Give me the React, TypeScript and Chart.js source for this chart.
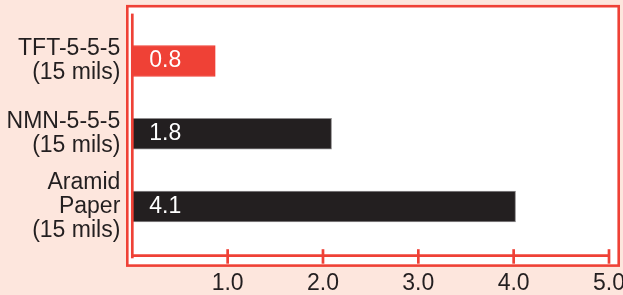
import React, { useEffect, useRef } from "react";
import { Chart, registerables } from "chart.js";

Chart.register(...registerables);

const categories: string[][] = [
  ["TFT-5-5-5", "(15 mils)"],
  ["NMN-5-5-5", "(15 mils)"],
  ["Aramid", "Paper", "(15 mils)"],
];
const barValues: number[] = [0.87, 2.09, 4.02];
const valueLabels: string[] = ["0.8", "1.8", "4.1"];
const xTickLabels: string[] = ["", "1.0", "2.0", "3.0", "4.0", "5.0"];
const barColors: string[] = ["#ef4136", "#231f20", "#231f20"];
const barBorders: string[] = ["#ef4136", "#8f8d8e", "#8f8d8e"];

const RED = "#ef4136";
const PINK = "#fde6dd";
const TEXT = "#231f20";
const FONT = "'Liberation Sans', Arial, Helvetica, sans-serif";

const decorPlugin = {
  id: "decor",
  beforeDraw(chart: any) {
    const { ctx, chartArea: ca, width, height } = chart;
    ctx.save();
    ctx.fillStyle = PINK;
    ctx.fillRect(0, 0, width, height);
    const l = ca.left - 5;
    const r = ca.right + 9.7;
    const t = ca.top - 18.4;
    const b = ca.bottom + 22.7;
    ctx.fillStyle = "#ffffff";
    ctx.fillRect(l, t, r - l, b - t);
    ctx.strokeStyle = RED;
    ctx.lineWidth = 2.6;
    ctx.strokeRect(l, t, r - l, b - t);
    ctx.restore();
  },
  afterDatasetsDraw(chart: any) {
    const { ctx, chartArea: ca } = chart;
    const xs = chart.scales.x;
    const axisY = ca.bottom + 12.8;
    ctx.save();
    ctx.strokeStyle = RED;
    ctx.lineWidth = 2.7;
    ctx.beginPath();
    ctx.moveTo(ca.left, ca.top - 11);
    ctx.lineTo(ca.left, ca.bottom + 15.4);
    ctx.stroke();
    ctx.beginPath();
    ctx.moveTo(ca.left, axisY);
    ctx.lineTo(xs.getPixelForValue(5), axisY);
    ctx.stroke();
    for (let v = 1; v <= 5; v++) {
      const px = xs.getPixelForValue(v);
      ctx.beginPath();
      ctx.moveTo(px, axisY - 6.5);
      ctx.lineTo(px, axisY + 8);
      ctx.stroke();
    }
    const meta = chart.getDatasetMeta(0);
    ctx.fillStyle = "#ffffff";
    ctx.font = `23px ${FONT}`;
    ctx.textAlign = "left";
    ctx.textBaseline = "alphabetic";
    meta.data.forEach((bar: any, i: number) => {
      ctx.fillText(valueLabels[i], bar.base + 17, bar.y + 6);
    });
    ctx.restore();
  },
};

export default function App() {
  const ref = useRef<HTMLCanvasElement | null>(null);
  useEffect(() => {
    if (!ref.current) return;
    const chart = new Chart(ref.current, {
      type: "bar",
      data: {
        labels: categories,
        datasets: [
          {
            data: barValues,
            backgroundColor: barColors,
            borderColor: barBorders,
            borderWidth: 1,
            barThickness: 31,
          },
        ],
      },
      options: {
        indexAxis: "y",
        animation: false,
        responsive: false,
        devicePixelRatio: 1,
        layout: { padding: { top: 24.6, right: 14, bottom: 0, left: 0 } },
        plugins: {
          legend: { display: false },
          tooltip: { enabled: false },
          title: { display: false },
        },
        scales: {
          x: {
            min: 0,
            max: 5,
            grid: { display: false, drawTicks: false },
            border: { display: false },
            ticks: {
              stepSize: 1,
              padding: 27,
              color: TEXT,
              font: { family: FONT, size: 23 },
              maxRotation: 0,
              autoSkip: false,
              callback: (_v: any, i: number) => xTickLabels[i],
            },
            afterFit: (s: any) => {
              s.height = 52.1;
              s.paddingLeft = 0;
              s.paddingRight = 0;
            },
          },
          y: {
            grid: { display: false, drawTicks: false },
            border: { display: false },
            ticks: {
              padding: 12,
              autoSkip: false,
              color: TEXT,
              font: { family: FONT, size: 23, lineHeight: 1.05 },
            },
            afterFit: (s: any) => {
              s.width = 132.3;
              s.paddingTop = 0;
              s.paddingBottom = 0;
            },
          },
        },
      },
      plugins: [decorPlugin],
    });
    return () => chart.destroy();
  }, []);
  return (
    <div style={{ position: "absolute", left: 0, top: 0, width: 623, height: 295, background: PINK }}>
      <canvas ref={ref} width={623} height={295} style={{ display: "block" }} />
    </div>
  );
}
